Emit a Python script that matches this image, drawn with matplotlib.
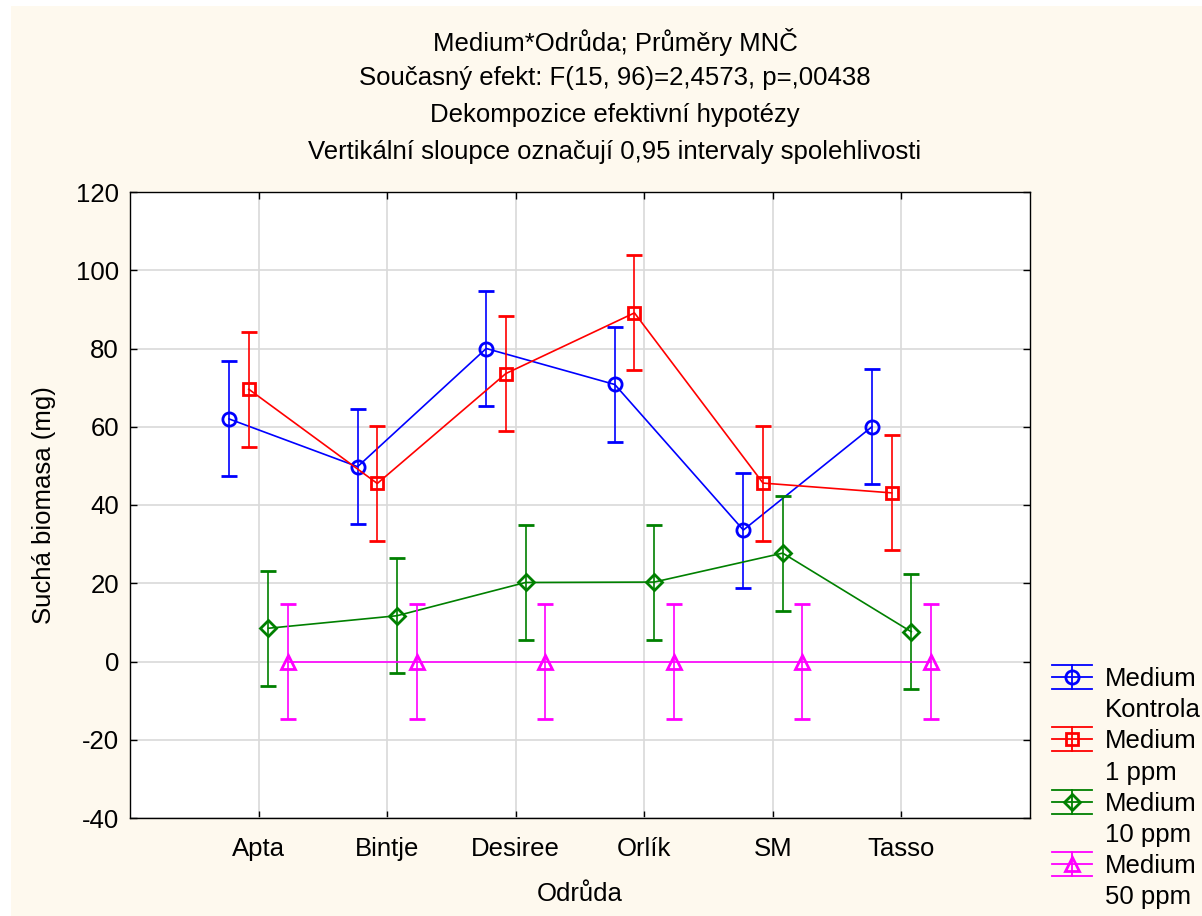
import numpy as np
import matplotlib
matplotlib.use('Agg')
import matplotlib.pyplot as plt
from matplotlib.lines import Line2D
from matplotlib.patches import Rectangle
from matplotlib.legend_handler import HandlerBase

plt.rcParams['font.family'] = ['Liberation Sans', 'DejaVu Sans']
plt.rcParams['axes.unicode_minus'] = False

# data
odrudy = ['Apta', 'Bintje', 'Desiree', 'Orlík', 'SM', 'Tasso']
skupiny = ['Kontrola', '1 ppm', '10 ppm', '50 ppm']
kontrola = [62.0, 49.8, 80.0, 70.8, 33.6, 60.0]
ppm1 = [69.6, 45.5, 73.6, 89.1, 45.6, 43.1]
ppm10 = [8.5, 11.7, 20.2, 20.3, 27.7, 7.6]
ppm50 = [0.0, 0.0, 0.0, 0.0, 0.0, 0.0]
ci_half = 14.7  # 0,95 interval, same for all cells

titulky = ['Medium*Odrůda; Průměry MNČ',
           'Současný efekt: F(15, 96)=2,4573, p=,00438',
           'Dekompozice efektivní hypotézy',
           'Vertikální sloupce označují 0,95 intervaly spolehlivosti']

barvy = ['#0000ff', '#ff0000', '#008000', '#ff00ff']
znacky = ['o', 's', 'D', '^']
velikosti = [9.5, 9, 8.5, 9.5]
FS = 18.5


class ErrHandler(HandlerBase):
    """legend handle drawn like the STATISTICA errorbar symbol"""
    def create_artists(self, legend, orig_handle, xdescent, ydescent,
                       width, height, fontsize, trans):
        c = orig_handle.get_color()
        m = orig_handle.get_marker()
        ms = orig_handle.get_markersize()
        cy = height / 2 - ydescent
        x0, x1 = -xdescent, width - xdescent
        xm = (x0 + x1) / 2
        d = 0.47 * fontsize
        arts = []
        for yy in (cy - d, cy, cy + d):
            arts.append(Line2D([x0, x1], [yy, yy], color=c, lw=1.3))
        arts.append(Line2D([xm, xm], [cy - d, cy + d], color=c, lw=1.3))
        arts.append(Line2D([xm], [cy], marker=m, markersize=ms,
                           markerfacecolor='none', markeredgecolor=c,
                           markeredgewidth=2, linestyle='none'))
        for a in arts:
            a.set_transform(trans)
        return arts


fig = plt.figure(figsize=(12.02, 9.16), dpi=100, facecolor='white')
fig.patches.append(Rectangle((11 / 1202, 0), 1, (916 - 6) / 916,
                             transform=fig.transFigure, facecolor='#fef9ee',
                             edgecolor='none', zorder=-5))

ax = fig.add_axes([130 / 1202, 1 - 818 / 916, 900 / 1202, 626 / 916])
ax.set_facecolor('white')

x = np.arange(1, len(odrudy) + 1)
posuny = [-1.5, -0.5, 0.5, 1.5]
serie = [kontrola, ppm1, ppm10, ppm50]

handles = []
labels = []
for i, data in enumerate(serie):
    xs = x + posuny[i] * 0.153
    ax.errorbar(xs, data, yerr=ci_half, color=barvy[i], lw=1.2,
                elinewidth=1.2, capsize=6, capthick=1.2,
                marker=znacky[i], markersize=velikosti[i],
                markerfacecolor='none', markeredgewidth=2, zorder=3 + i)
    handles.append(Line2D([], [], color=barvy[i], marker=znacky[i],
                          markersize=velikosti[i]))
    labels.append('Medium')
    handles.append(Line2D([], [], color='none'))
    labels.append(skupiny[i])

ax.set_xlim(0, 7)
ax.set_ylim(-40, 120)
ax.set_xticks(x)
ax.set_xticklabels(odrudy)
ax.set_yticks(np.arange(-40, 121, 20))
ax.grid(True, color='#d9d9d9', lw=1.2, zorder=0)
ax.set_axisbelow(True)
ax.tick_params(direction='in', length=5, width=1, labelsize=FS,
               top=True, right=True, pad=8)
ax.tick_params(axis='x', pad=14)
for s in ax.spines.values():
    s.set_linewidth(1)
    s.set_color('black')

ax.set_xlabel('Odrůda', fontsize=FS, labelpad=15)
ax.set_ylabel('Suchá biomasa (mg)', fontsize=FS, labelpad=14)

for j, t in enumerate(titulky):
    fig.text(615 / 1202, 1 - (42 + j * 36.5) / 916, t, ha='center',
             va='center', fontsize=FS)

h_map = {h: ErrHandler() for h in handles[::2]}
fig.legend(handles, labels, handler_map=h_map, loc='upper left',
           bbox_to_anchor=(1052 / 1202, 1 - 667 / 916), frameon=False,
           fontsize=FS, labelspacing=0.28, handlelength=1.55,
           handletextpad=0.5, borderpad=0, borderaxespad=0)

fig.savefig('out.png', dpi=100, facecolor=fig.get_facecolor())
